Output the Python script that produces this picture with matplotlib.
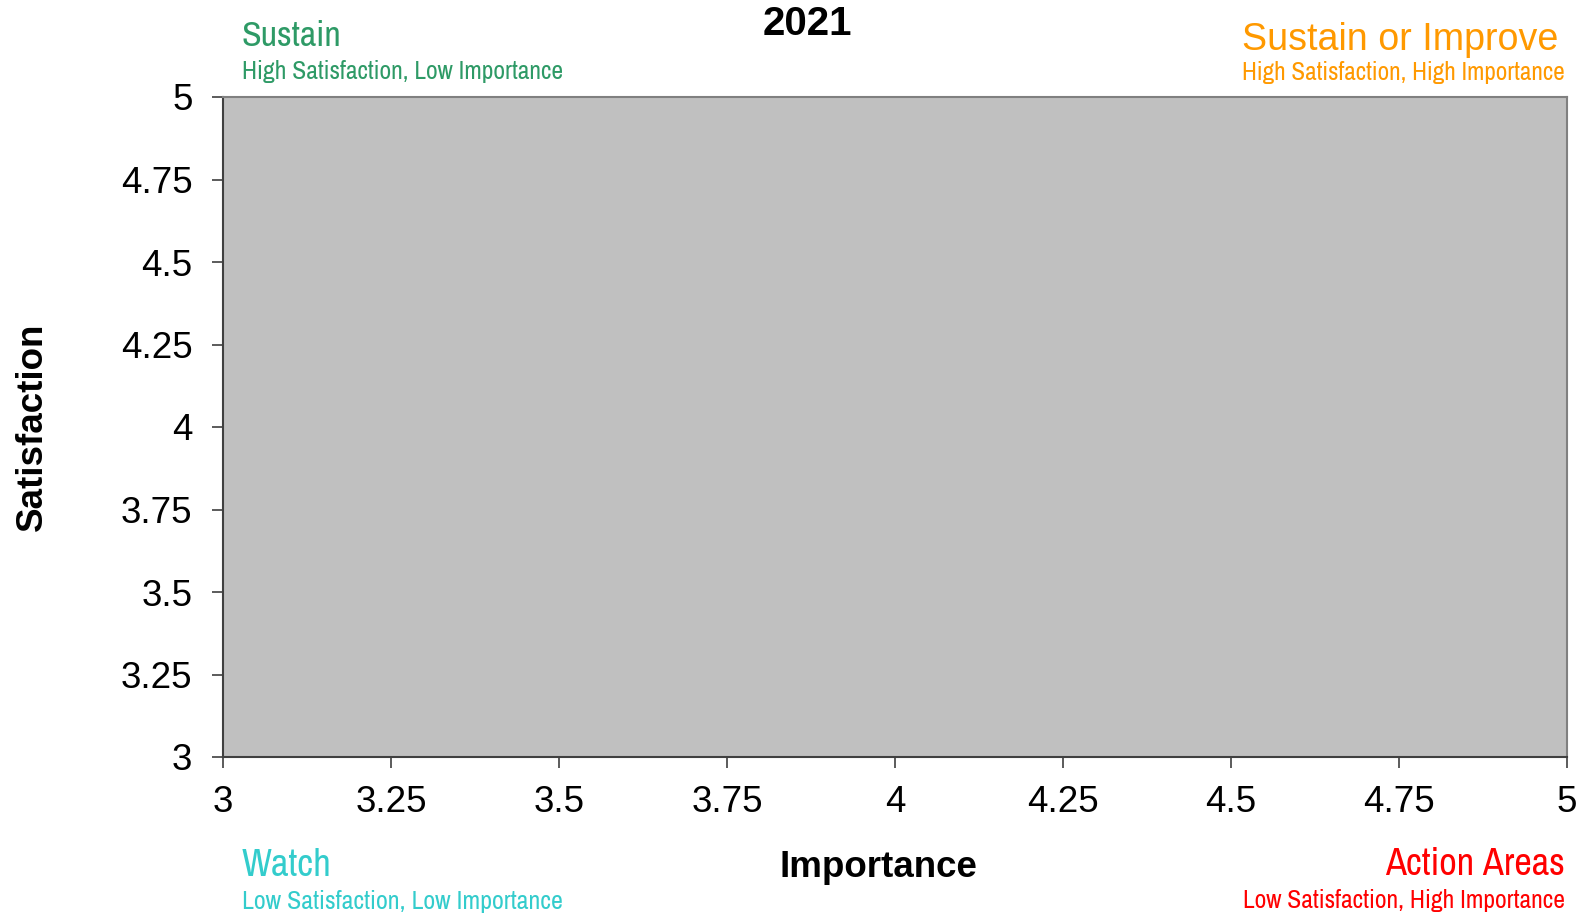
import matplotlib
matplotlib.use("Agg")
import matplotlib.pyplot as plt

# data / labels
title = "2021"
x_label = "Importance"
y_label = "Satisfaction"
x_ticks = [3, 3.25, 3.5, 3.75, 4, 4.25, 4.5, 4.75, 5]
y_ticks = [3, 3.25, 3.5, 3.75, 4, 4.25, 4.5, 4.75, 5]
x_tick_labels = ["3", "3.25", "3.5", "3.75", "4", "4.25", "4.5", "4.75", "5"]
y_tick_labels = ["3", "3.25", "3.5", "3.75", "4", "4.25", "4.5", "4.75", "5"]
quad_titles = ["Sustain", "Sustain or Improve", "Watch", "Action Areas"]
quad_subs = ["High Satisfaction, Low Importance", "High Satisfaction, High Importance",
             "Low Satisfaction, Low Importance", "Low Satisfaction, High Importance"]
quad_colors = ["#2e9a66", "#ff9900", "#33cccc", "#ff0000"]

W, H = 1583, 916
fig = plt.figure(figsize=(W / 100, H / 100), dpi=100)
ax = fig.add_axes([223 / W, 1 - 757 / H, (1567 - 223) / W, (757 - 97) / H])
ax.set_facecolor("#c0c0c0")
ax.set_xlim(3, 5)
ax.set_ylim(3, 5)
ax.set_xticks(x_ticks)
ax.set_xticklabels(x_tick_labels)
ax.set_yticks(y_ticks)
ax.set_yticklabels(y_tick_labels)

base = "Liberation Sans"
narrow = ["Archivo Narrow", "Liberation Sans"]
for lab in ax.get_xticklabels() + ax.get_yticklabels():
    lab.set_fontfamily(base)
    lab.set_fontsize(26.5)
ax.tick_params(axis="both", length=8, width=1.2, color="#404040")
ax.tick_params(axis="y", pad=14)
ax.tick_params(axis="x", pad=12)
for s in ["left", "bottom"]:
    ax.spines[s].set_color("#404040")
    ax.spines[s].set_linewidth(1.5)
for s in ["top", "right"]:
    ax.spines[s].set_color("#808080")
    ax.spines[s].set_linewidth(1.5)

def fx(px):
    return px / W

def fy(py):
    return 1 - py / H

fig.text(fx(807), fy(35), title, fontsize=29, fontweight="bold", family=base,
         ha="center", va="baseline")
fig.text(fx(878), fy(877), x_label, fontsize=26.5, fontweight="bold", family=base,
         ha="center", va="baseline")
fig.text(fx(15), fy(427), y_label, fontsize=26.5, fontweight="bold", family=base,
         ha="left", va="center", rotation=90)

renderer = fig.canvas.get_renderer()

def fitted(x, y, s, width_px, family, color, ha, size0):
    t = fig.text(fx(x), fy(y), s, fontsize=size0, family=family, color=color,
                 ha=ha, va="baseline")
    w = t.get_window_extent(renderer).width
    t.set_fontsize(size0 * width_px / w)
    return t

# quadrant labels
fitted(242, 46, quad_titles[0], 100, narrow, quad_colors[0], "left", 28)
fitted(242, 79, quad_subs[0], 322, narrow, quad_colors[0], "left", 19)
fitted(1558, 50, quad_titles[1], 316, base, quad_colors[1], "right", 27)
fitted(1565, 80, quad_subs[1], 323, narrow, quad_colors[1], "right", 19)
fitted(242, 876, quad_titles[2], 90, narrow, quad_colors[2], "left", 28)
fitted(242, 909, quad_subs[2], 322, narrow, quad_colors[2], "left", 19)
fitted(1565, 875, quad_titles[3], 180, narrow, quad_colors[3], "right", 28)
fitted(1565, 908, quad_subs[3], 323, narrow, quad_colors[3], "right", 19)

fig.savefig("out.png", dpi=100)
